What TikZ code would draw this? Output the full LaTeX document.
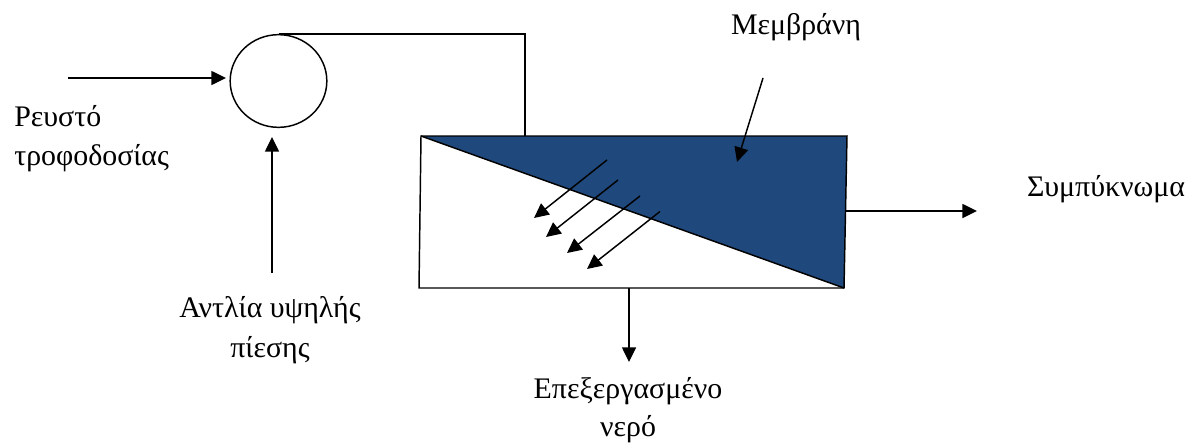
\documentclass[tikz,border=0pt]{standalone}
\usepackage{fontspec}
\setmainfont{Liberation Serif}
\usetikzlibrary{arrows.meta,shapes.geometric}
\tikzset{
  flow/.style={draw=black,line width=1.1pt,-{Triangle[length=11pt,width=10.5pt]}},
  pipe/.style={draw=black,line width=1.1pt},
  lab/.style={font=\fontsize{22.4}{29.5}\selectfont,inner sep=0pt,align=center},
  labl/.style={font=\fontsize{22.4}{29.5}\selectfont,inner sep=0pt,align=left},
  labt/.style={font=\fontsize{22.4}{28.5}\selectfont,inner sep=0pt,align=center}
}
\begin{document}
\begin{tikzpicture}[x=0.75pt,y=-0.75pt]
\useasboundingbox (0,0) rectangle (1195,443);
% membrane vessel
\coordinate (tl) at (421,136);
\coordinate (tr) at (847,136);
\coordinate (br) at (844,288);
\coordinate (bl) at (419,288);
\fill[fill={rgb,255:red,31;green,73;blue,125}] (tl) -- (tr) -- (br) -- cycle;
\draw[pipe] (tl) -- (tr) -- (br) -- (bl) -- cycle;
\draw[pipe] (tl) -- (br);
% pump
\node[ellipse,draw=black,line width=1.1pt,minimum width=72.5pt,minimum height=69.5pt,inner sep=0pt] (pump) at (278.5,81) {};
% pipe to vessel
\coordinate (c1) at (525,35);
\coordinate (c2) at (525,136);
\draw[pipe] (pump.north) -- (pump.north -| c1) -- (c2);
% feed
\coordinate (feed) at (68,78);
\coordinate (feedt) at (226,78);
\draw[flow] (feed) -- (feedt);
% high pressure pump
\coordinate (hp) at (272,273);
\coordinate (hpt) at (272,137);
\draw[flow] (hp) -- (hpt);
% membrane arrow
\coordinate (m1) at (763,78);
\coordinate (m2) at (737,162);
\draw[flow] (m1) -- (m2);
% permeation
\coordinate (a1) at (607,160); \coordinate (a2) at (534,218);
\coordinate (b1) at (618,180); \coordinate (b2) at (546,237);
\coordinate (d1) at (640,196); \coordinate (d2) at (567,253);
\coordinate (e1) at (660,211.5); \coordinate (e2) at (587,269);
\draw[flow] (a1) -- (a2);
\draw[flow] (b1) -- (b2);
\draw[flow] (d1) -- (d2);
\draw[flow] (e1) -- (e2);
% outlets
\coordinate (cs) at (846,211); \coordinate (ce) at (977,211);
\draw[flow] (cs) -- (ce);
\coordinate (ps) at (629,288); \coordinate (pe) at (629,362);
\draw[flow] (ps) -- (pe);
% labels
\node[labl,anchor=north west] (feedl) at (14,105) {Ρευστό\\τροφοδοσίας};
\node[lab] (hpl) at (270,330) {Αντλία υψηλής\\πίεσης};
\node[labt] (prod) at (628,410) {Επεξεργασμένο\\νερό};
\node[lab] (conc) at (1106,189) {Συμπύκνωμα};
\node[lab] (memb) at (796,27) {Μεμβράνη};
\end{tikzpicture}
\end{document}
